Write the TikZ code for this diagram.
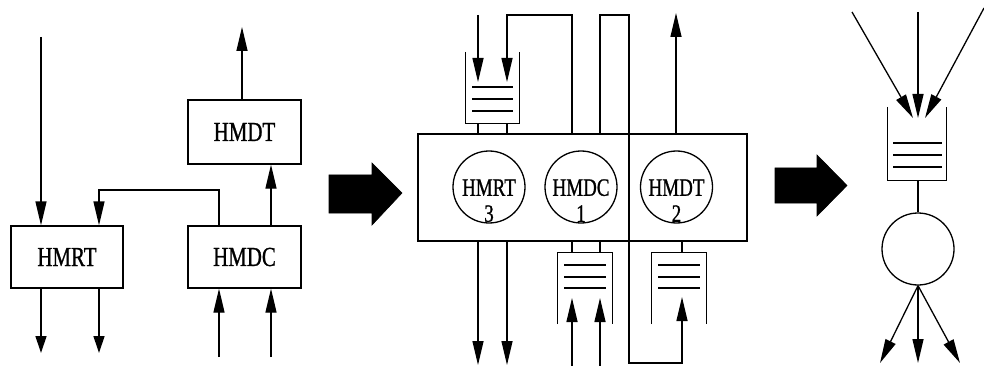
\documentclass[tikz,border=0pt]{standalone}
\usepackage{fontspec}
\newfontfamily\lblfont[FakeStretch=0.76,FakeBold=0.9]{Liberation Serif}
\usetikzlibrary{arrows.meta}
\tikzset{
  ln/.style={line width=1.3pt, line cap=butt, line join=miter},
  arr/.style={ln, -{Triangle[length=24pt,width=11pt]}},
  sarr/.style={ln, -{Triangle[length=17pt,width=11pt]}},
  boxn/.style={draw, line width=1.3pt, minimum width=113pt, minimum height=62pt, inner sep=0pt, font=\lblfont\fontsize{27.5}{27.5}\selectfont},
  procn/.style={draw, circle, line width=1.3pt, minimum size=72pt, inner sep=0pt},
  lbl/.style={inner sep=0pt, anchor=south, text depth=0pt, align=center, font=\lblfont\fontsize{25}{26}\selectfont},
  qn/.style={inner sep=0pt, minimum width=54pt, minimum height=71pt},
  bigarrow/.style={fill=black, draw=black, line width=0.6pt},
}
\begin{document}
\begin{tikzpicture}[x=1pt,y=-1pt]
\useasboundingbox (0,0) rectangle (984,366);

% ---------------- left part ----------------
\node[boxn, minimum width=112pt] (hmrt) at (67,257) {HMRT};
\node[boxn] (hmdc) at (244.5,257) {HMDC};
\node[boxn, minimum height=64pt] (hmdt) at (244.5,132) {HMDT};

\coordinate (inA) at (41,37);
\draw[arr] (inA) -- (hmrt.north -| inA);
\draw[arr] (hmdc.north -| 219,0) -- (219,190) -- (99,190) -- (hmrt.north -| 99,0);
\draw[sarr] (hmrt.south -| 41,0) -- (41,353);
\draw[sarr] (hmrt.south -| 99,0) -- (99,353);
\draw[arr] (hmdc.north -| 271,0) -- (hmdt.south -| 271,0);
\draw[arr] (hmdt.north -| 242,0) -- (242,27);
\draw[arr] (219,357) -- (hmdc.south -| 219,0);
\draw[arr] (271,357) -- (hmdc.south -| 271,0);

% big arrow 1
\fill[bigarrow] (329,175) -- (372,175) -- (372,163) -- (402,193) -- (372,225) -- (372,213) -- (329,213) -- cycle;

% ---------------- middle part ----------------
\node[draw, line width=1.3pt, minimum width=329pt, minimum height=107pt, inner sep=0pt] (sys) at (582.5,187.5) {};
\node[procn] (c1) at (489,187) {};
\node[procn] (c2) at (581,187) {};
\node[procn] (c3) at (676.5,187) {};
\node[lbl] (t1) at (489,222) {HMRT\\3};
\node[lbl] (t2) at (581,222) {HMDC\\1};
\node[lbl] (t3) at (676.5,222) {HMDT\\2};

% top queue (open at top)
\node[qn, minimum width=53pt] (q1) at (492.5,87.5) {};
\draw[ln] (q1.north west) -- (q1.south west) -- (q1.south east) -- (q1.north east);
\foreach \yy in {87,99,111} \draw[ln] (472,\yy) -- (513,\yy);
\draw[ln] (q1.south -| 478,0) -- (sys.north -| 478,0);
\draw[ln] (q1.south -| 507,0) -- (sys.north -| 507,0);
\draw[arr] (478,15) -- (478,82);
\draw[arr] (sys.north -| 572,0) -- (572,15) -- (507,15) -- (507,82);

% HMDC queue (open at bottom)
\node[qn] (q2) at (585,288.5) {};
\draw[ln] (q2.south west) -- (q2.north west) -- (q2.north east) -- (q2.south east);
\foreach \yy in {265,277,288} \draw[ln] (564,\yy) -- (606,\yy);
\draw[ln] (sys.south -| 572,0) -- (q2.north -| 572,0);
\draw[ln] (sys.south -| 600,0) -- (q2.north -| 600,0);
\draw[arr] (572,366) -- (572,298);
\draw[arr] (600,366) -- (600,298);

% HMDT queue (open at bottom)
\node[qn] (q3) at (679,288.5) {};
\draw[ln] (q3.south west) -- (q3.north west) -- (q3.north east) -- (q3.south east);
\foreach \yy in {265,277,288} \draw[ln] (658,\yy) -- (700,\yy);
\draw[ln] (sys.south -| 682,0) -- (q3.north -| 682,0);

% loop through divider
\draw[arr] (sys.north -| 600,0) -- (600,15) -- (629,15) -- (629,363) -- (682,363) -- (682,297);

% outputs
\draw[arr] (sys.south -| 478,0) -- (478,365);
\draw[arr] (sys.south -| 507,0) -- (507,365);
\draw[arr] (sys.north -| 676,0) -- (676,13);

% big arrow 2
\fill[bigarrow] (775,168) -- (817,168) -- (817,155) -- (847,185.5) -- (817,216) -- (817,203) -- (775,203) -- cycle;

% ---------------- right part ----------------
\node[qn, minimum width=58pt, minimum height=73pt] (q4) at (917,143.5) {};
\draw[ln] (q4.north west) -- (q4.south west) -- (q4.south east) -- (q4.north east);
\foreach \yy in {143,155,167} \draw[ln] (893,\yy) -- (942,\yy);
\node[procn] (c4) at (918,249) {};
\draw[ln] (q4.south -| c4) -- (c4.north);
\coordinate (s1) at (852,12);
\coordinate (s2) at (918,12);
\coordinate (s3) at (984,8);
\coordinate (e1) at (880,363);
\coordinate (e2) at (918,363);
\coordinate (e3) at (960,363);
\draw[arr] (s1) -- (913,118);
\draw[arr] (s2) -- (918,118);
\draw[arr] (s3) -- (925,118);
\draw[arr] (c4.south) -- (e1);
\draw[arr] (c4.south) -- (e2);
\draw[arr] (c4.south) -- (e3);
\end{tikzpicture}
\end{document}
